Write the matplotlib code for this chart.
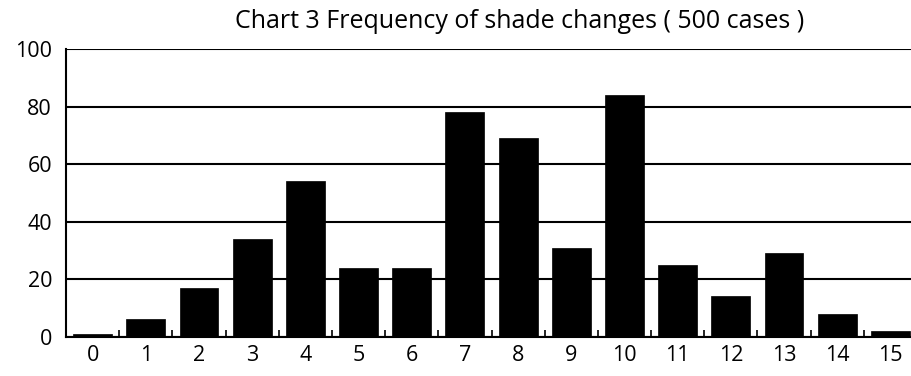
import numpy as np
import matplotlib
matplotlib.use("Agg")
from matplotlib import pyplot as plt

# changes in shade and how many cases had that count
changes = [str(i) for i in range(16)]
cases = [1, 6, 17, 34, 54, 24, 24, 78, 69, 31, 84, 25, 14, 29, 8, 2]
yticks = [0, 20, 40, 60, 80, 100]
title = "Chart 3 Frequency of shade changes ( 500 cases )"

plt.rcParams['font.family'] = ['Open Sans', 'DejaVu Sans']

fig = plt.figure(figsize=(9.11, 3.76), dpi=100)
ax = fig.add_axes([66/911, 39.3/376, (917 - 66)/911, 287.7/376])

x = np.arange(len(changes))
ax.bar(x, cases, width=0.73, color="black", edgecolor="black", linewidth=0.5, zorder=3)

ax.set_xlim(-0.5, len(changes) - 0.5)
ax.set_ylim(0, 100)
ax.set_yticks(yticks)
ax.yaxis.grid(True, color="black", linewidth=1.5, zorder=1)
ax.set_axisbelow(True)

ax.set_xticks(x)
ax.set_xticklabels(changes)
ax.set_xticks(np.arange(0.5, len(changes) - 0.5, 1.0), minor=True)
ax.tick_params(axis="x", which="major", length=0, pad=6, labelsize=15.5)
ax.tick_params(axis="x", which="minor", direction="in", length=5, width=1.2)
ax.tick_params(axis="y", length=0, pad=10, labelsize=15.5)

for side in ["top", "right"]:
    ax.spines[side].set_visible(False)
ax.spines["left"].set_linewidth(1.5)
ax.spines["bottom"].set_linewidth(1.5)

fig.text(520/911, 1 - 21/376, title, ha="center", va="center", fontsize=18)

fig.savefig("out.png", dpi=100)
